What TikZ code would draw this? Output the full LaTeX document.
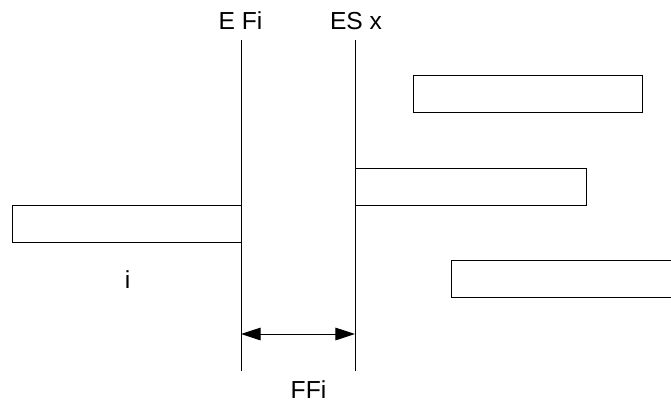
\documentclass[tikz,border=0pt]{standalone}
\usepackage{fontspec}
\setmainfont{Liberation Sans}
\usetikzlibrary{arrows.meta}
\tikzset{
  bar/.style={draw, line width=0.7pt, inner sep=0pt, minimum height=0.925cm, anchor=north west},
  lbl/.style={anchor=base, inner sep=0pt, font=\fontsize{17.5}{20}\selectfont},
}
\begin{document}
\begin{tikzpicture}[x=0.025cm, y=-0.025cm]
            \clip (0,0) rectangle (671,403);
            \useasboundingbox (0,0) rectangle (671,403);
            
            % Marking the two time lines
            \coordinate (ef top) at (241,40);%
            \coordinate (ef bot) at (241,371);%
            \coordinate (es top) at (355,40);%
            \coordinate (es bot) at (355,371);%
            \draw [line width=0.7pt] (ef top) -- (ef bot);%
            \draw [line width=0.7pt] (es top) -- (es bot);%
            \node [lbl] (ef) at (240.5,29) { E Fi };%
            \node [lbl] (es) at (356,29) { ES x };%
            
            % Drawing activity i
            \node [bar, minimum width=5.725cm] (act i) at (12,205) {};%
            \node [lbl] (i) at (127.5,288) { i };%
            
            % Drawing successors x
            \node [bar, minimum width=5.725cm] (succ a) at (413,75) {};%
            \node [bar, minimum width=5.775cm] (succ b) at (355,168) {};%
            \node [bar, minimum width=6.5cm] (succ c) at (451,260) {};%
            
            % Drawing free float FFi
            \coordinate (ff l) at (241,334);%
            \coordinate (ff r) at (355,334);%
            \draw [line width=0.7pt, {Triangle[length=14pt,width=9pt]}-{Triangle[length=14pt,width=9pt]}] (ff l) -- (ff r);%
            \node [lbl] (ff) at (308.5,398) { FFi };%
        \end{tikzpicture}
\end{document}
